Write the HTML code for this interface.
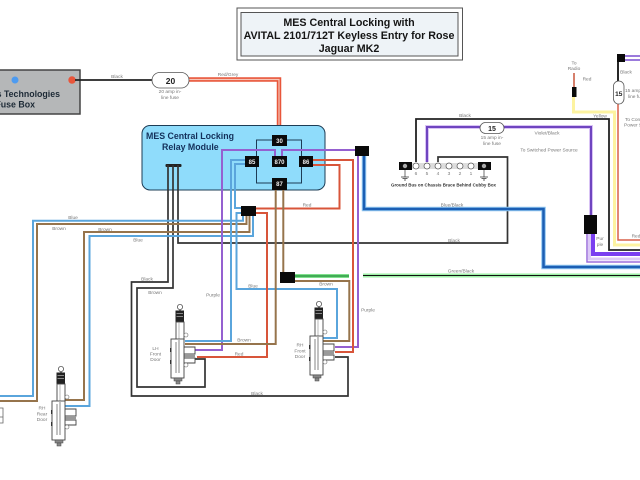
<!DOCTYPE html>
<html><head><meta charset="utf-8"><style>
html,body{margin:0;padding:0;background:#fff}
svg{display:block}
text{font-family:"Liberation Sans",sans-serif}
.l{font-size:4.8px;fill:#777;text-anchor:middle}
.ls{font-size:4.8px;fill:#777;text-anchor:start}
.w{fill:none;stroke-linejoin:miter}
.rl{font-size:6px;font-weight:bold;fill:#eee;text-anchor:middle}
</style></head><body>
<svg width="640" height="480" viewBox="0 0 640 480" xmlns="http://www.w3.org/2000/svg">
<defs>
<g id="lock">
  <circle cx="0" cy="0" r="2.600" fill="#fff" stroke="#555" stroke-width=".8"/>
  <rect x="-1" y="2.500" width="2" height="3" fill="#777"/>
  <rect x="-4.500" y="3.500" width="8.500" height="11.500" fill="#222"/>
  <rect x="-3.500" y="6" width="6.500" height="1" fill="#888"/>
  <rect x="-3.500" y="9" width="6.500" height="1" fill="#888"/>
  <rect x="-4" y="15" width="8" height="18" fill="#fff" stroke="#444" stroke-width=".9"/>
  <line x1="-1" y1="15" x2="-1" y2="33" stroke="#888" stroke-width=".6"/>
  <circle cx="6" cy="28" r="2" fill="#fff" stroke="#666" stroke-width=".6"/>
  <path d="M4 40H15V47H4M4 51H15V56H4" fill="#fff" stroke="#444" stroke-width=".9"/>
  <rect x="4" y="47" width="11" height="4" fill="#999"/>
  <rect x="-9" y="32" width="13" height="39" fill="#fff" stroke="#444" stroke-width=".9"/>
  <line x1="-4" y1="35" x2="-4" y2="66" stroke="#666" stroke-width=".8"/>
  <line x1="-1" y1="33" x2="-1" y2="66" stroke="#666" stroke-width=".8"/>
  <rect x="-10" y="41" width="1.500" height="4" fill="#333"/>
  <rect x="-10" y="53" width="1.500" height="4" fill="#333"/>
  <circle cx="6" cy="58" r="2" fill="#fff" stroke="#666" stroke-width=".6"/>
  <rect x="-6" y="71" width="8" height="3" fill="#888" stroke="#444" stroke-width=".5"/>
  <rect x="-4" y="74" width="4" height="3" fill="#888" stroke="#444" stroke-width=".5"/>
</g>
</defs>

<!-- title -->
<rect x="237" y="8" width="225.500" height="52" fill="#fff" stroke="#555" stroke-width="1"/>
<rect x="241" y="12.500" width="217" height="43.500" fill="#eef3f7" stroke="#555" stroke-width="1"/>
<g font-size="10.700" font-weight="bold" text-anchor="middle" fill="#151515">
<text x="349" y="26">MES Central Locking with</text>
<text x="349" y="39">AVITAL 2101/712T Keyless Entry for Rose</text>
<text x="349" y="52">Jaguar MK2</text>
</g>

<!-- fuse box -->
<rect x="-5" y="70" width="85" height="44" fill="#b5b7b8" stroke="#444" stroke-width="1.500"/>
<circle cx="15" cy="80" r="3.500" fill="#4d9bf0"/>
<circle cx="72" cy="80" r="3.700" fill="#e8553a"/>
<g font-size="8.800" font-weight="bold" fill="#1d2a36" text-anchor="end">
<text x="60" y="97">s Technologies</text>
<text x="35" y="107.500">Fuse Box</text>
</g>
<path class="w" d="M75 80H152" stroke="#222" stroke-width="1.800"/>

<!-- red/grey -->
<path class="w" d="M189 79.500H279V136" stroke="#e8563a" stroke-width="4.500"/>
<path class="w" d="M189 79.500H279V136" stroke="#f6c6b8" stroke-width="1.200"/>
<rect x="152" y="72.500" width="37" height="15.500" rx="7.700" fill="#fff" stroke="#555" stroke-width=".8"/>
<text x="170.500" y="84" font-size="8.500" font-weight="bold" text-anchor="middle" fill="#222">20</text>

<!-- module -->
<rect x="142" y="125.500" width="183" height="64.500" rx="8" fill="#8fdcfb" stroke="#1d3c55" stroke-width="1"/>
<g font-size="8.800" font-weight="bold" fill="#13305a">
<text x="146" y="139">MES Central Locking</text>
<text x="162" y="150">Relay Module</text>
</g>
<path class="w" d="M256.500 140H301.500V183H256.500Z" stroke="#1d3c55" stroke-width="1"/>

<!-- black cables -->
<rect x="165.500" y="164" width="16" height="3" rx="1" fill="#222"/>
<path class="w" d="M168 165V282H131.500V396H348V357H335" stroke="#333" stroke-width="1.700"/>
<path class="w" d="M173 165V288H137V387H205V359H195" stroke="#333" stroke-width="1.700"/>
<path class="w" d="M178 165V243H507.500V157H438V162" stroke="#333" stroke-width="1.700"/>

<!-- blue/brown trunk -->
<path class="w" d="M243 216V220.700H33V396H0" stroke="#5aa5dc" stroke-width="2"/>
<path class="w" d="M246.500 216V224H37V401H0" stroke="#96744c" stroke-width="2"/>
<path class="w" d="M249.500 216V232H84V400H65" stroke="#96744c" stroke-width="2"/>
<path class="w" d="M253 216V236H89.500V406H65" stroke="#5aa5dc" stroke-width="2"/>

<!-- purple -->
<path class="w" d="M275 156V150H222V350H195" stroke="#9560d0" stroke-width="2"/>
<path class="w" d="M282 156V150H358" stroke="#9560d0" stroke-width="2"/>
<path class="w" d="M358 150V347H335" stroke="#9560d0" stroke-width="2"/>

<!-- blue from 85 -->
<path class="w" d="M245 160H231V341H185" stroke="#5aa5dc" stroke-width="2"/>
<path class="w" d="M245 164H235V208H241" stroke="#5aa5dc" stroke-width="2"/>
<path class="w" d="M241 213H236.500V289H337V338H323" stroke="#5aa5dc" stroke-width="2"/>

<!-- red -->
<path class="w" d="M313 160H353V352H335" stroke="#d8553a" stroke-width="2"/>
<path class="w" d="M313 165H339.500V208.500H255" stroke="#d8553a" stroke-width="2"/>
<path class="w" d="M255 213H267V357H197" stroke="#d8553a" stroke-width="2"/>

<!-- brown from 87 -->
<path class="w" d="M275.700 190V344H185" stroke="#96744c" stroke-width="2"/>
<path class="w" d="M283.300 190V274" stroke="#96744c" stroke-width="2"/>
<path class="w" d="M295 281H349.300V341H323" stroke="#96744c" stroke-width="2"/>

<!-- green -->
<path class="w" d="M295 276H349" stroke="#7fe08c" stroke-width="4"/>
<path class="w" d="M295 276H349" stroke="#2f9a45" stroke-width="1.500"/>
<path class="w" d="M363 275.500H640" stroke="#9df0a6" stroke-width="4"/>
<path class="w" d="M363 275.500H640" stroke="#111" stroke-width="1"/>

<!-- blue/black -->
<path class="w" d="M364 156V209H543.500V267H640" stroke="#8fc6f0" stroke-width="4.500"/>
<path class="w" d="M364 156V209H543.500V267H640" stroke="#1c5fb4" stroke-width="2.500"/>

<!-- relay terminals -->
<g fill="#0a0a0a">
<rect x="272" y="135" width="15" height="11"/>
<rect x="245" y="156" width="14" height="11"/>
<rect x="272" y="156" width="15" height="11"/>
<rect x="299" y="156" width="14" height="11"/>
<rect x="272" y="178" width="15" height="12"/>
<rect x="241" y="206" width="15" height="10"/>
<rect x="355" y="146" width="14" height="10"/>
<rect x="280" y="272" width="15" height="11"/>
<rect x="584" y="215" width="13" height="19"/>
<rect x="617" y="54" width="8" height="8"/>
<rect x="572" y="87" width="4.500" height="10"/>
</g>
<text class="rl" x="279.500" y="143">30</text>
<text class="rl" x="252" y="164">85</text>
<text class="rl" x="279.500" y="164">870</text>
<text class="rl" x="306" y="164">86</text>
<text class="rl" x="279.500" y="186">87</text>

<!-- ground bus wires -->
<path class="w" d="M416 162V119H609V250H640" stroke="#222" stroke-width="1.800"/>
<path class="w" d="M427 162V127H591V215" stroke="#d9c3f5" stroke-width="4"/>
<path class="w" d="M427 162V127H591V215" stroke="#6f45c0" stroke-width="2"/>
<rect x="480" y="122.500" width="24" height="11" rx="5.500" fill="#fff" stroke="#555" stroke-width=".8"/>
<text x="492" y="131" font-size="7" font-weight="bold" text-anchor="middle" fill="#222">15</text>

<rect x="412" y="163" width="66" height="6" fill="#ddd"/>
<rect x="399" y="162" width="13" height="8" fill="#0a0a0a"/>
<rect x="478" y="162" width="13" height="8" fill="#0a0a0a"/>
<circle cx="405" cy="166" r="2.200" fill="#aaa"/>
<circle cx="484" cy="166" r="2.200" fill="#aaa"/>
<g fill="#fff" stroke="#555" stroke-width=".7">
<circle cx="416" cy="166" r="3"/><circle cx="427" cy="166" r="3"/><circle cx="438" cy="166" r="3"/>
<circle cx="449" cy="166" r="3"/><circle cx="460" cy="166" r="3"/><circle cx="471" cy="166" r="3"/>
</g>
<path d="M405 170V177M401 177H409M402.500 178.500H407.500M404 180H406M484 170V177M480 177H488M481.500 178.500H486.500M483 180H485" stroke="#333" stroke-width=".7" fill="none"/>
<text class="l" x="416" y="175">6</text><text class="l" x="427" y="175">5</text><text class="l" x="438" y="175">4</text>
<text class="l" x="449" y="175">3</text><text class="l" x="460" y="175">2</text><text class="l" x="471" y="175">1</text>
<text x="391" y="186.500" font-size="4.800" font-weight="bold" fill="#333" textLength="105" lengthAdjust="spacingAndGlyphs">Ground Bus on Chassis Brace Behind Cubby Box</text>

<!-- right cluster -->
<path class="w" d="M574 73V87" stroke="#c8553a" stroke-width="1.500"/>
<path class="w" d="M573.500 97V112H614.500V245H640" stroke="#fdf3a0" stroke-width="3"/>
<path class="w" d="M618 104V240H640" stroke="#d8604a" stroke-width="1.500"/>
<path class="w" d="M618 62V82" stroke="#111" stroke-width="1.800"/>
<path class="w" d="M625 56H640M625 60H640" stroke="#7a4fd0" stroke-width="1.500"/>
<rect x="613.500" y="81" width="10.500" height="23" rx="5.200" fill="#fff" stroke="#555" stroke-width=".8"/>
<text x="618.800" y="96" font-size="6.500" font-weight="bold" text-anchor="middle" fill="#222">15</text>
<path class="w" d="M593 234V254H640" stroke="#7a3ff0" stroke-width="4"/>
<path class="w" d="M589.500 234V259H640" stroke="#dcc9f7" stroke-width="3"/>
<path class="w" d="M587 234V262H640" stroke="#9b6fdc" stroke-width="1.500"/>

<!-- locks -->
<use href="#lock" x="180" y="307"/>
<use href="#lock" x="319" y="304"/>
<use href="#lock" x="61" y="369"/>
<path d="M0 408H3V423H0M0 417H3" fill="none" stroke="#666" stroke-width=".8"/>

<!-- labels -->
<text class="l" x="117" y="78">Black</text>
<text class="l" x="170" y="93">20 amp in-</text><text class="l" x="170" y="99">line fuse</text>
<text class="l" x="228" y="76">Red/Grey</text>
<text class="l" x="73" y="219">Blue</text>
<text class="l" x="59" y="230">Brown</text>
<text class="l" x="105" y="231">Brown</text>
<text class="l" x="138" y="241.500">Blue</text>
<text class="l" x="147" y="280.500">Black</text>
<text class="l" x="155" y="294">Brown</text>
<text class="l" x="213" y="296.500">Purple</text>
<text class="l" x="244" y="341.500">Brown</text>
<text class="l" x="239" y="355.500">Red</text>
<text class="l" x="253" y="287.500">Blue</text>
<text class="l" x="307" y="206.500">Red</text>
<text class="l" x="326" y="285.500">Brown</text>
<text class="l" x="368" y="311.500">Purple</text>
<text class="l" x="257" y="395">Black</text>
<text class="l" x="454" y="242">Black</text>
<text class="l" x="452" y="206.500">Blue/Black</text>
<text class="l" x="461" y="272.500">Green/Black</text>
<text class="l" x="465" y="117">Black</text>
<text class="l" x="547" y="134.500">Violet/Black</text>
<text class="l" x="492" y="139">15 amp in-</text><text class="l" x="492" y="145">line fuse</text>
<text class="l" x="549" y="151.500">To Switched Power Source</text>
<text class="l" x="626" y="73.500">Black</text>
<text class="l" x="600" y="117.500">Yellow</text>
<text class="l" x="574" y="64.500">To</text><text class="l" x="574" y="70">Radio</text>
<text class="l" x="587" y="80.500">Red</text>
<text class="l" x="600" y="240">Pur</text><text class="l" x="600" y="246">ple</text>
<text class="l" x="636" y="237.500">Red</text>
<text class="l" x="155.500" y="350">LH</text><text class="l" x="155.500" y="355.500">Front</text><text class="l" x="155.500" y="361">Door</text>
<text class="l" x="300" y="346.500">RH</text><text class="l" x="300" y="352.500">Front</text><text class="l" x="300" y="358">Door</text>
<text class="l" x="42" y="409.500">RH</text><text class="l" x="42" y="415.500">Rear</text><text class="l" x="42" y="421">Door</text>
<text class="ls" x="625" y="92">15 amp in-</text><text class="ls" x="628" y="98">line fuse</text>
<text class="ls" x="625" y="121">To Conn</text><text class="ls" x="624" y="126.500">Power S</text>
</svg>
</body></html>
